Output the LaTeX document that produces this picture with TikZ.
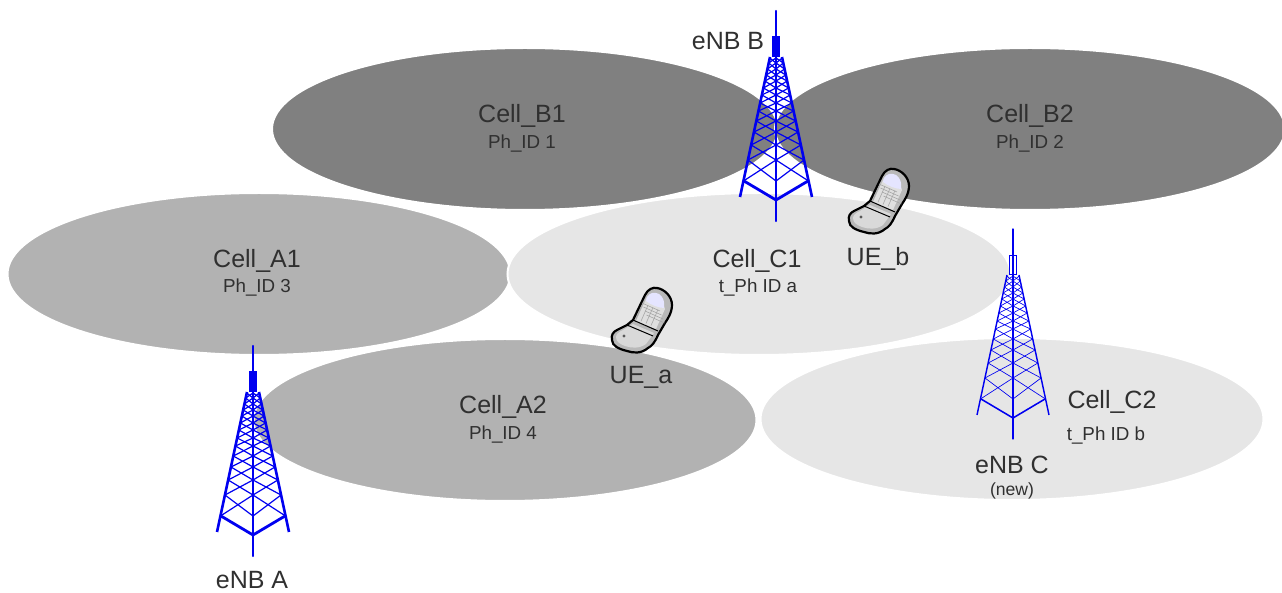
\documentclass[tikz,border=0pt]{standalone}
\usepackage{fontspec}
\setmainfont{Liberation Sans}
\usepackage{tikz}
\usetikzlibrary{shapes.geometric}

\definecolor{cellB}{HTML}{808080}
\definecolor{cellA}{HTML}{B2B2B2}
\definecolor{cellC}{HTML}{E6E6E6}
\definecolor{towerblue}{HTML}{0000F0}
\definecolor{labelgray}{HTML}{303030}

\newcommand{\smalltxt}{\fontsize{9.4}{14}\selectfont}

\tikzset{
    cell/.style={ellipse,draw=white,line width=1pt,inner sep=0pt,
        minimum width=251.5pt,minimum height=81pt},
    lbl/.style={text=labelgray,inner sep=0pt,font=\fontsize{12.5}{14}\selectfont},
    lblsmall/.style={text=labelgray,inner sep=0pt,font=\smalltxt},
    pics/tower/.style 2 args={code={
        \draw[towerblue,line width=#1*1.2pt,line cap=round] (0,0) -- (0,210);
        \draw[towerblue,line width=#1*0.6pt,fill=#2] (-3.5,26) rectangle (3.5,45);
        \draw[towerblue,line width=#1*1.3pt] (-6,46) -- (-36,186);
        \draw[towerblue,line width=#1*1.3pt] (6,46) -- (36,186);
        \draw[towerblue,line width=#1*1.4pt,line join=round] (-32,170) -- (0,189) -- (32,170);
        \foreach \ya/\yb in {170/149,149/134,134/121,121/110,110/100,100/92,92/84,84/77,77/70,70/64,64/58,58/52,52/47} {
            \pgfmathsetmacro{\xa}{6+(\ya-46)*0.214}
            \pgfmathsetmacro{\xb}{6+(\yb-46)*0.214}
            \draw[towerblue,line width=#1*0.6pt] (-\xa,\ya) -- (0,\yb) -- (\xa,\ya);
            \draw[towerblue,line width=#1*0.6pt] (-\xb,\yb) -- (0,\ya) -- (\xb,\yb);
        }
    }},
    phone/.pic={
        % body
        \draw[black,line width=1.1pt,fill=gray!55,line join=round]
            (4,-28) .. controls (7,-34) and (12,-36) .. (16,-35)
            .. controls (23,-34) and (31,-27) .. (31,-18)
            .. controls (31,-10) and (26,-3) .. (24,0)
            -- (17,12) .. controls (14,19) and (11,23) .. (7,25)
            .. controls (0,31) and (-8,30) .. (-14,28)
            .. controls (-22,26) and (-29,23) .. (-29,17)
            .. controls (-30,12) and (-28,9) .. (-24,7)
            -- (-14,2) -- (-8,-3) -- cycle;
        % flip
        \fill[gray!25] (6,-26) -- (-5,-2) -- (-2,0) -- (15,6) -- (24,-14) -- (21,-22) -- cycle;
        % screen
        \fill[blue!10!white] (6,-26) .. controls (9,-31) and (14,-31) .. (18,-29)
            .. controls (22,-26) and (24,-22) .. (23,-15)
            .. controls (18,-15) and (10,-18) .. (5,-22) -- cycle;
        % keypad
        \foreach \t in {0,1,2,3} {
            \draw[gray!70,line width=0.3pt] (1+\t*1.5,-20+\t*4) -- (19+\t*1.5,-12+\t*4);
            \draw[gray!70,line width=0.3pt] (2+\t*5,-20+\t*2.2) -- (-5+\t*5,-4+\t*2.2);
        }
        % lower part
        \fill[gray!30] (-8,1) -- (13,10) -- (5,21) .. controls (-2,26) and (-10,25) .. (-16,23)
            .. controls (-22,21) and (-25,18) .. (-25,14) .. controls (-25,11) and (-22,9) .. (-18,7) -- cycle;
        \draw[black,line width=0.5pt] (-8,-3) -- (17,8);
        \draw[black,line width=0.5pt] (-14,2) -- (12,13);
        \fill[gray!70!black] (-17,13) circle (1.6);
    }
}

\begin{document}
\begin{tikzpicture}[x=0.5pt,y=-0.5pt]
    \path[use as bounding box] (0,0) rectangle (1282,593);

    \node[cell,fill=cellB,minimum width=253pt] (cellBone) at (525,129) {};
    \node[cell,fill=cellB,minimum width=255pt] (cellBtwo) at (1030,129) {};
    \node[cell,fill=cellA] (cellAone) at (259,274) {};
    \node[cell,fill=cellA] (cellAtwo) at (505,420) {};
    \node[cell,fill=cellC] (cellCone) at (759,274) {};
    \node[cell,fill=cellC] (cellCtwo) at (1012,419) {};

    \node[lbl] (nameBone) at (522,116) {Cell\_B1};
    \node[lblsmall] (idBone) at (522,144) {Ph\_ID 1};
    \node[lbl] (nameBtwo) at (1030,116) {Cell\_B2};
    \node[lblsmall] (idBtwo) at (1030,144) {Ph\_ID 2};
    \node[lbl] (nameAone) at (257,261) {Cell\_A1};
    \node[lblsmall] (idAone) at (257,288) {Ph\_ID 3};
    \node[lbl] (nameAtwo) at (503,407) {Cell\_A2};
    \node[lblsmall] (idAtwo) at (503,435) {Ph\_ID 4};
    \node[lbl] (nameCone) at (757,261) {Cell\_C1};
    \node[lblsmall] (idCone) at (758,288) {t\_Ph ID a};
    \node[lbl] (nameCtwo) at (1112,402) {Cell\_C2};
    \node[lblsmall] (idCtwo) at (1106,436) {t\_Ph ID b};

    \pic at (776,11) {tower={1}{towerblue}};
    \pic at (253,346) {tower={1}{towerblue}};
    \pic at (1013,229) {tower={0.55}{none}};

    \node[lbl] (enbB) at (728,41) {eNB B};
    \node[lbl] (enbA) at (252,580) {eNB A};
    \node[lbl] (enbC) at (1012,465) {eNB C};
    \node[lblsmall,font=\fontsize{8.8}{10}\selectfont] (enbCnew) at (1012,491) {(new)};

    \pic at (641,323) {phone};
    \pic at (878,204) {phone};

    \node[lbl] (ueA) at (641,377) {UE\_a};
    \node[lbl] (ueB) at (878,259) {UE\_b};
\end{tikzpicture}
\end{document}
